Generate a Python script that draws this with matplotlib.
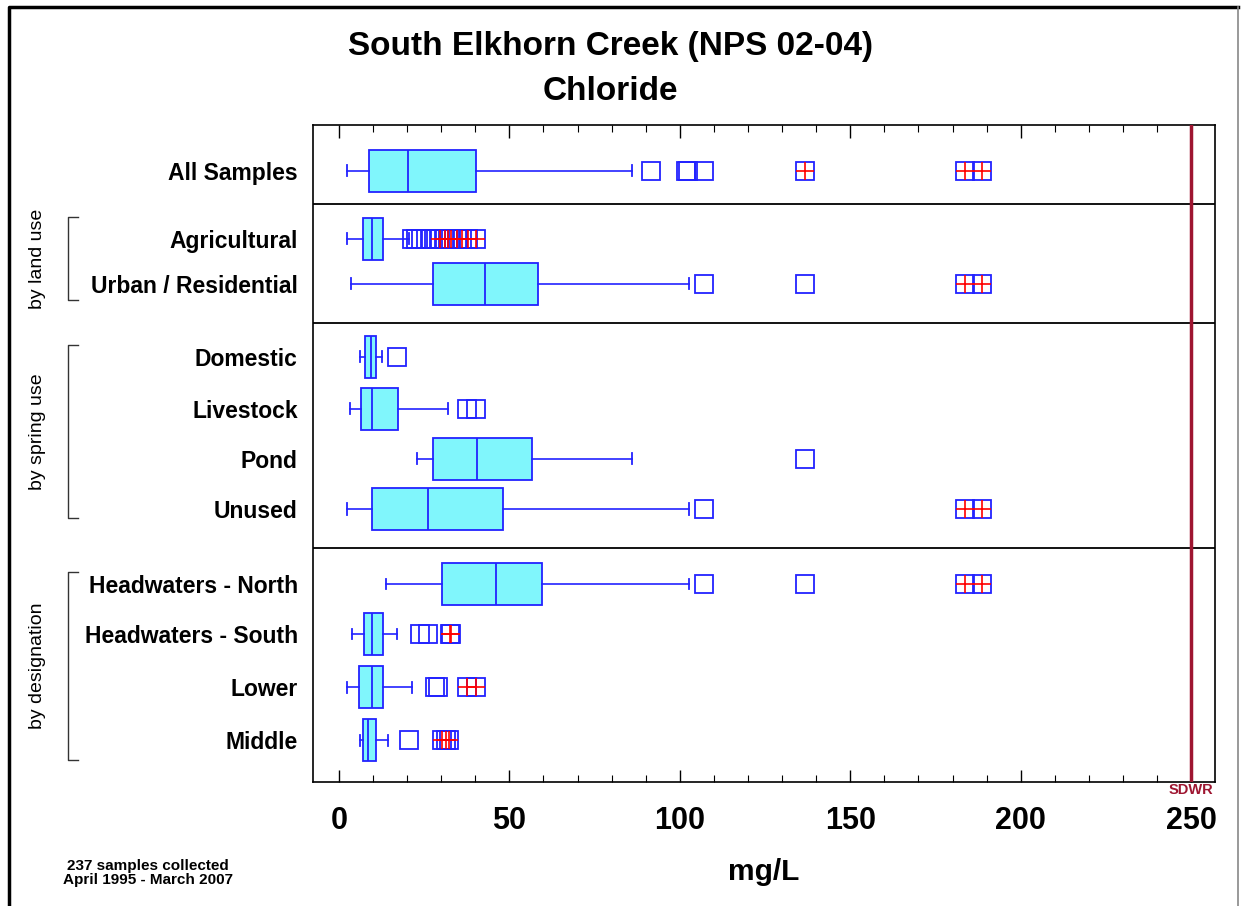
import matplotlib
matplotlib.use("Agg")
import matplotlib.pyplot as plt
from matplotlib.lines import Line2D
import matplotlib.transforms as mtransforms
from matplotlib.ticker import MultipleLocator

plt.rcParams["font.family"] = ["Liberation Sans", "DejaVu Sans"]

# ---- data (mg/L) ----
labels = ["All Samples", "Agricultural", "Urban / Residential", "Domestic",
          "Livestock", "Pond", "Unused", "Headwaters - North",
          "Headwaters - South", "Lower", "Middle"]
whislo = [2.5, 2.5, 3.5, 6.2, 3.2, 22.8, 2.5, 13.7, 3.7, 2.5, 6.2]
q1 = [8.9, 7.1, 27.7, 7.6, 6.6, 27.7, 9.6, 30.1, 7.4, 6.0, 7.1]
med = [20.2, 9.8, 42.8, 9.4, 9.6, 40.6, 26.2, 46.0, 9.8, 9.6, 8.6]
q3 = [40.1, 12.8, 58.4, 11.0, 17.4, 56.7, 48.2, 59.6, 12.8, 12.8, 10.8]
whishi = [86.0, 20.6, 102.7, 12.6, 32.1, 86.0, 102.7, 102.7, 16.9, 21.3, 14.5]
# outliers (open squares) and far-out values (squares with red cross)
outliers = [[91.6, 101.7, 102.3, 107.1],
            [21.3, 22.5, 24.0, 25.5, 27.0, 28.5],
            [107.0, 136.6],
            [17.0],
            [37.7, 40.1],
            [136.6],
            [107.0],
            [107.0, 136.6],
            [23.9, 26.0],
            [28.3, 29.0],
            [20.5]]
extremes = [[136.6, 183.6, 188.6],
            [29.7, 31.0, 32.0, 33.0, 34.5, 36.0, 38.0, 40.3],
            [183.6, 188.6],
            [],
            [],
            [],
            [183.6, 188.6],
            [183.6, 188.6],
            [32.5, 33.0],
            [37.7, 40.2],
            [30.1, 31.5, 32.3]]
sdwr = 250

# row layout (in row units, top to bottom)
positions = [0, 1.36, 2.26, 3.72, 4.76, 5.76, 6.76, 8.26, 9.26, 10.32, 11.38]
separators = [0.66, 3.04, 7.54]
groups = [("by land use", 0.92, 2.58), ("by spring use", 3.48, 6.94),
          ("by designation", 8.02, 11.78)]

BLUE = "#2222FF"
CYAN = "#80F6FC"
DARKRED = "#9E1530"

fig = plt.figure(figsize=(12.43, 9.06), dpi=100)
ax = fig.add_axes([313 / 1243, 1 - 782 / 906, (1215 - 313) / 1243, (782 - 125) / 906])

stats = []
for i, lab in enumerate(labels):
    stats.append(dict(label=lab, whislo=whislo[i], q1=q1[i], med=med[i],
                      q3=q3[i], whishi=whishi[i], fliers=[]))

ax.bxp(stats, positions=positions, orientation="horizontal", widths=0.84,
       capwidths=0.22, showfliers=False, patch_artist=True,
       boxprops=dict(facecolor=CYAN, edgecolor=BLUE, linewidth=1.3),
       medianprops=dict(color=BLUE, linewidth=1.3),
       whiskerprops=dict(color=BLUE, linewidth=1.2),
       capprops=dict(color=BLUE, linewidth=1.3))

for pos, outl, ext in zip(positions, outliers, extremes):
    vals = outl + ext
    if vals:
        ax.plot(vals, [pos] * len(vals), ls="none", marker="s", ms=12.8,
                mfc="none", mec=BLUE, mew=1.3, zorder=3)
    if ext:
        ax.plot(ext, [pos] * len(ext), ls="none", marker="+", ms=12.8,
                color="red", mew=1.2, zorder=4)

for s in separators:
    ax.axhline(s, color="black", lw=1.3)

ax.axvline(sdwr, color=DARKRED, lw=2.5, zorder=5)
trans = mtransforms.blended_transform_factory(ax.transData, ax.transAxes)
ax.text(sdwr, -0.002, "SDWR", transform=trans, ha="center", va="top",
        fontsize=10.5, fontweight="bold", color=DARKRED)

ax.set_xlim(-7.6, 257)
ax.set_ylim(12.22, -0.92)
ax.set_yticks(positions, labels)
ax.tick_params(axis="y", length=0, pad=11, labelsize=16.5)
for t in ax.get_yticklabels():
    t.set_fontweight("bold")

ax.xaxis.set_major_locator(MultipleLocator(50))
ax.xaxis.set_minor_locator(MultipleLocator(10))
ax.tick_params(axis="x", which="both", direction="in", top=True, labelsize=22, pad=17)
ax.tick_params(axis="x", which="major", length=9, width=1)
ax.tick_params(axis="x", which="minor", length=5, width=0.8)
for t in ax.get_xticklabels():
    t.set_fontweight("bold")
for sp in ax.spines.values():
    sp.set_linewidth(1.2)

ax.set_xlabel("mg/L", fontsize=21.5, fontweight="bold", labelpad=16)

# titles
fig.text(0.491, 1 - 47 / 906, "South Elkhorn Creek (NPS 02-04)", ha="center",
         va="center", fontsize=24, fontweight="bold")
fig.text(0.491, 1 - 92 / 906, "Chloride", ha="center", va="center",
         fontsize=24, fontweight="bold")

# group labels with brackets
def row_to_fig(p):
    disp = ax.transData.transform((0, p))
    return fig.transFigure.inverted().transform(disp)[1]

for name, start, end in groups:
    y0 = row_to_fig(start)
    y1 = row_to_fig(end)
    xb, xt = 68 / 1243, 78 / 1243
    fig.add_artist(Line2D([xt, xb, xb, xt], [y0, y0, y1, y1], color="#333333",
                          lw=1.0, transform=fig.transFigure))
    fig.text(37 / 1243, (y0 + y1) / 2, name, rotation=90, ha="center",
             va="center", fontsize=14)

fig.text(148 / 1243, 1 - 873 / 906, "237 samples collected\nApril 1995 - March 2007",
         ha="center", va="center", fontsize=11, fontweight="bold", linespacing=1.05)

# outer frame: dark on left/top, light on right/bottom
fig.add_artist(Line2D([9 / 1243, 9 / 1243, 1238 / 1243], [0, 1 - 7 / 906, 1 - 7 / 906],
                      color="black", lw=2.5, transform=fig.transFigure))
fig.add_artist(Line2D([1238 / 1243, 1238 / 1243], [0, 1 - 7 / 906],
                      color="#888888", lw=1.2, transform=fig.transFigure))

fig.savefig("out.png", dpi=100)
